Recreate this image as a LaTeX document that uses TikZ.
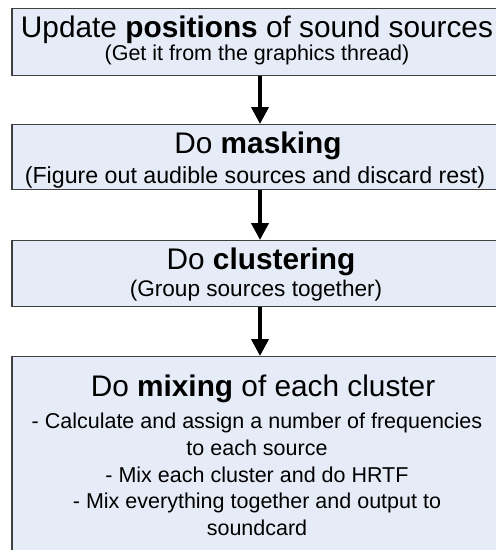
\documentclass[tikz,border=0pt]{standalone}
\usepackage{fontspec}
\setmainfont{Liberation Sans}
\usetikzlibrary{positioning,arrows.meta}
\definecolor{boxfill}{HTML}{E6ECF7}
\definecolor{boxline}{HTML}{404040}

\begin{document}
\begin{tikzpicture}[x=1pt,y=-1pt,
  stagebox/.style={draw=boxline,fill=boxfill,line width=1.3pt,minimum width=496pt,inner sep=0pt,anchor=north},
  headtext/.style={font=\fontsize{29.8}{34}\selectfont,inner sep=0pt,anchor=base},
  notetext/.style={font=\fontsize{21.5}{26.7}\selectfont,inner sep=0pt,align=center,anchor=base},
  flow/.style={line width=4pt,-{Triangle[width=17pt,length=17pt]}}]
\useasboundingbox (0,0) rectangle (496,550);
\clip (0,0) rectangle (496,550);
% boxes
\node[stagebox,minimum height=67pt] (update) at (260,8) {};
\node[stagebox,minimum height=65pt] (mask) at (260,124) {};
\node[stagebox,minimum height=66pt] (cluster) at (260,240) {};
\node[stagebox,minimum height=240pt] (mix) at (260,356) {};
% texts
\node[headtext] (update-head) at (257,37) {Update \textbf{positions} of sound sources};
\node[notetext] (update-note) at (257,60) {(Get it from the graphics thread)};
\node[headtext] (mask-head) at (258,153) {Do \textbf{masking}};
\node[notetext,font=\fontsize{23.2}{28}\selectfont] (mask-note) at (255,183) {(Figure out audible sources and discard rest)};
\node[headtext] (cluster-head) at (261,269.5) {Do \textbf{clustering}};
\node[notetext,font=\fontsize{22.6}{27}\selectfont] (cluster-note) at (256,296) {(Group sources together)};
\node[headtext] (mix-head) at (263,396) {Do \textbf{mixing} of each cluster};
\node[notetext,anchor=north] (mix-note) at (257,413) {- Calculate and assign a number of frequencies\\
  to each source\\- Mix each cluster and do HRTF\\
  - Mix everything together and output to\\soundcard};
% arrows
\draw[flow] (update.south) -- (mask.north);
\draw[flow] (mask.south) -- (cluster.north);
\draw[flow] (cluster.south) -- (mix.north);
\end{tikzpicture}
\end{document}
